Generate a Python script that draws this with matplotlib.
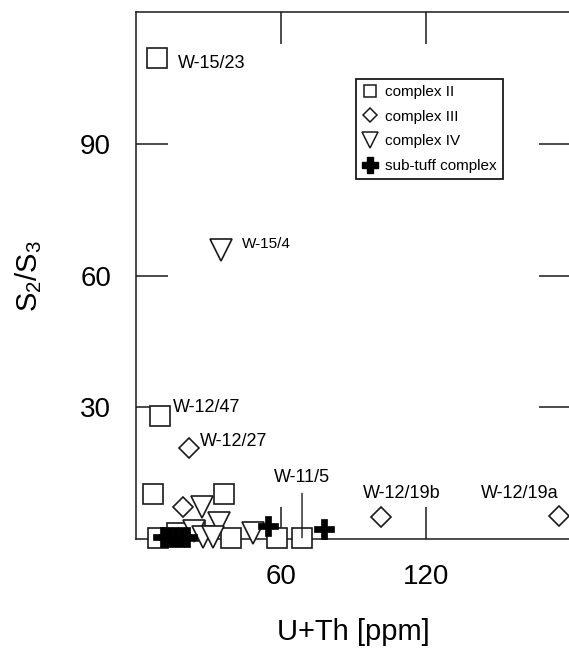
import matplotlib
matplotlib.use("Agg")
import matplotlib.pyplot as plt
from matplotlib.lines import Line2D

plt.rcParams['font.family'] = ['Liberation Sans', 'DejaVu Sans']
plt.rcParams['mathtext.default'] = 'regular'

# U+Th [ppm] vs S2/S3 for each complex
c2_x = [8.7, 9.9, 7.0, 36.4, 24.5, 17.0, 9.1, 39.5, 58.3, 68.7]
c2_y = [109.6, 28.0, 10.2, 10.2, 1.8, 1.4, 0.3, 0.3, 0.3, 0.3]
c3_x = [21.9, 19.4, 101.4, 175.0]
c3_y = [20.7, 7.3, 5.0, 5.2]
c4_x = [35.2, 27.3, 34.3, 24.0, 27.7, 32.0, 48.4]
c4_y = [65.9, 7.3, 3.6, 1.8, 0.5, 0.5, 1.4]
st_x = [11.0, 13.5, 16.0, 18.5, 21.0, 54.6, 77.8]
st_y = [0.5, 0.5, 0.5, 0.5, 0.5, 3.0, 2.3]

ec = '#1a1a1a'
fig = plt.figure(figsize=(5.69, 6.51), dpi=100)
ax = fig.add_axes([136/569, 112/651, 435/569, 527/651])

kw = dict(linestyle='none', mec=ec, mew=1.2, clip_on=False)
ax.plot(c2_x, c2_y, 's', ms=14, mfc='white', zorder=3, **kw)
ax.plot(c3_x, c3_y, 'D', ms=10.5, mfc='white', zorder=3.1, **kw)
ax.plot(c4_x, c4_y, 'v', ms=16, mfc='white', zorder=3.2, **kw)
ax.plot(st_x, st_y, 'P', ms=15, mfc='black', mec='black', mew=0.5,
        linestyle='none', clip_on=False, zorder=3.3)

ax.set_xlim(0, 180)
ax.set_ylim(0, 120)
ax.set_xticks([60, 120])
ax.set_yticks([30, 60, 90])
ax.tick_params(direction='in', length=23, width=1.1, top=True, right=True,
               labelsize=20, pad=18, color=ec)
for s in ax.spines.values():
    s.set_linewidth(1.1)
    s.set_color(ec)

ax.set_xlabel('U+Th [ppm]', fontsize=21, labelpad=20)
ax.set_ylabel('S$_2$/S$_3$', fontsize=21, labelpad=26)

fs = 13
ax.annotate('W-15/23', (c2_x[0], c2_y[0]), xytext=(15, -4), textcoords='offset points',
            ha='left', va='center', fontsize=fs)
ax.annotate('W-15/4', (c4_x[0], c4_y[0]), xytext=(15, 4), textcoords='offset points',
            ha='left', va='center', fontsize=11)
ax.annotate('W-12/47', (c2_x[1], c2_y[1]), xytext=(9, 6), textcoords='offset points',
            ha='left', va='center', fontsize=fs)
ax.annotate('W-12/27', (c3_x[0], c3_y[0]), xytext=(8, 5), textcoords='offset points',
            ha='left', va='center', fontsize=fs)
ax.annotate('W-11/5', (c2_x[9], c2_y[9]), xytext=(0, 43), textcoords='offset points',
            ha='center', va='center', fontsize=fs,
            arrowprops=dict(arrowstyle='-', lw=1, color=ec, shrinkA=3, shrinkB=0))
ax.annotate('W-12/19b', (c3_x[2], c3_y[2]), xytext=(15, 17), textcoords='offset points',
            ha='center', va='center', fontsize=fs)
ax.annotate('W-12/19a', (c3_x[3], c3_y[3]), xytext=(-28, 16.5), textcoords='offset points',
            ha='center', va='center', fontsize=fs)

handles = [
    Line2D([], [], marker='s', ms=9, mfc='white', mec=ec, mew=1.1, linestyle='none'),
    Line2D([], [], marker='D', ms=7, mfc='white', mec=ec, mew=1.1, linestyle='none'),
    Line2D([], [], marker='v', ms=11, mfc='white', mec=ec, mew=1.1, linestyle='none'),
    Line2D([], [], marker='P', ms=11, mfc='black', mec='black', linestyle='none'),
]
names = ['complex II', 'complex III', 'complex IV', 'sub-tuff complex']
leg = ax.legend(handles, names, loc='upper left', bbox_to_anchor=(356/569, 1 - 79/651),
                bbox_transform=fig.transFigure, borderaxespad=0, fontsize=11,
                fancybox=False, framealpha=1, edgecolor=ec, labelspacing=0.7,
                handlelength=1.0, handletextpad=0.5, borderpad=0.4)
leg.get_frame().set_linewidth(1.3)
leg.set_zorder(5)

fig.savefig('out.png', dpi=100)
